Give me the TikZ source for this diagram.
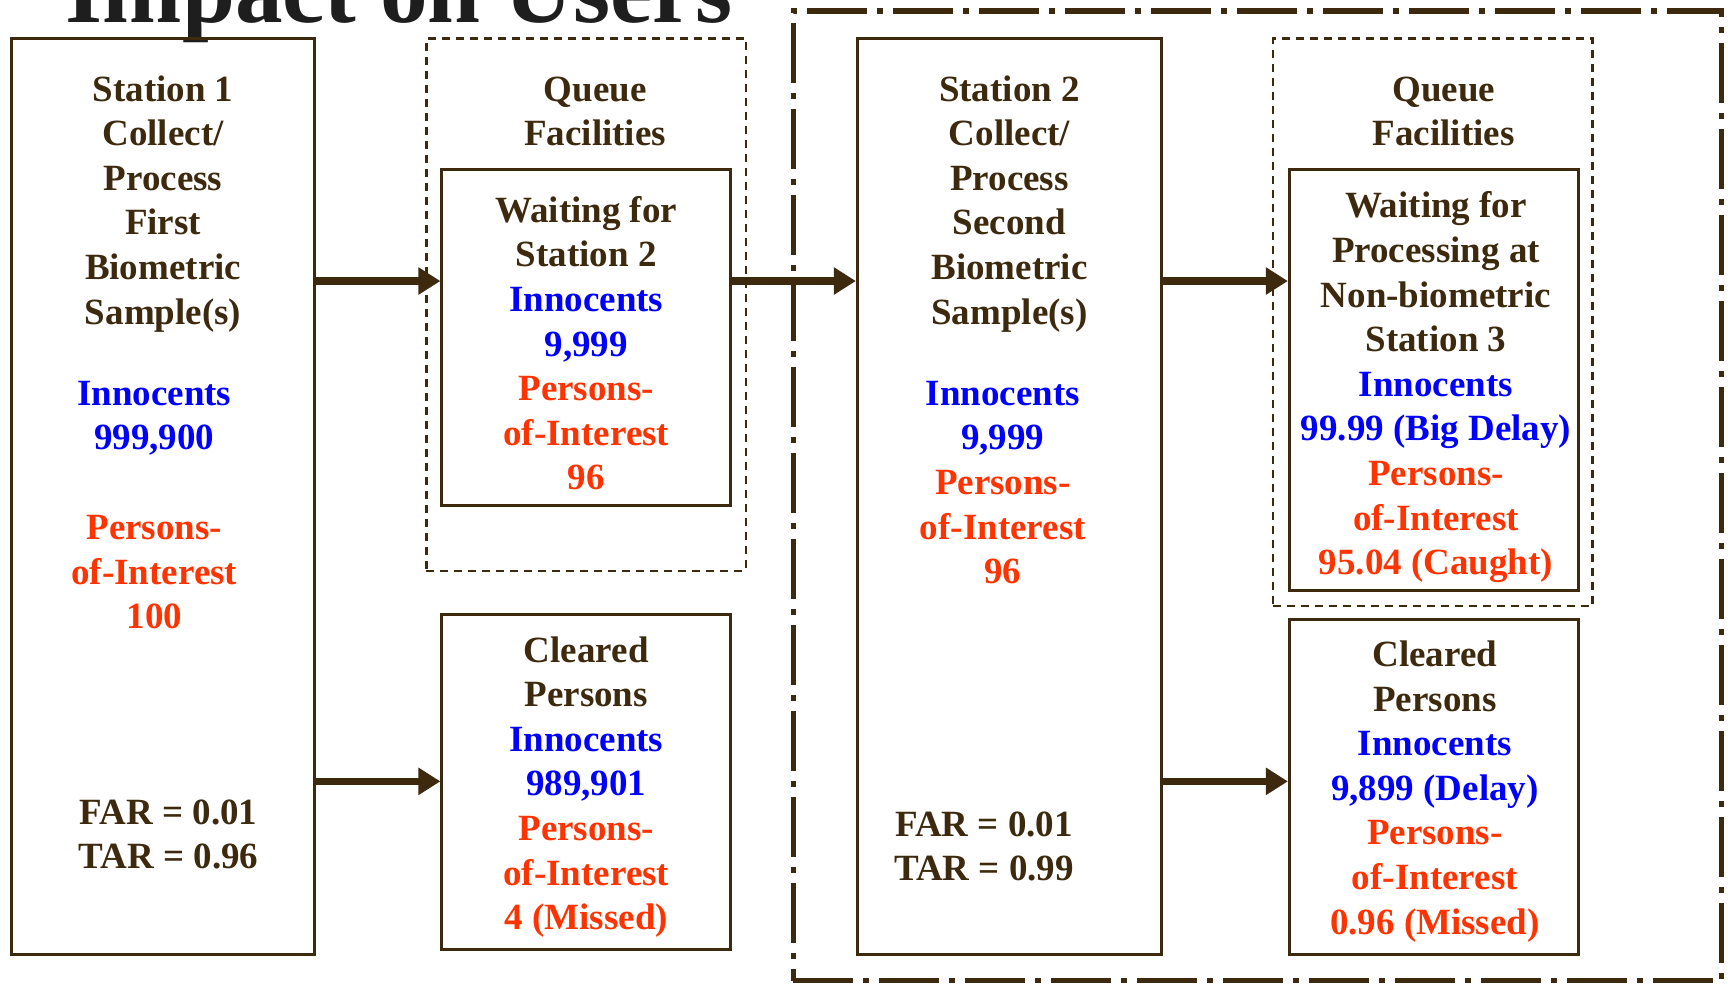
\documentclass[tikz,border=0pt]{standalone}
\usepackage{fontspec}
\setmainfont{Liberation Serif}
\usetikzlibrary{arrows.meta}
\definecolor{brn}{HTML}{3D2A0E}
\definecolor{blu}{HTML}{0000FF}
\definecolor{rd}{HTML}{FF3300}
\definecolor{ttl}{HTML}{1E1E1E}
\newcommand{\bl}[1]{\textcolor{blu}{#1}}
\newcommand{\rdt}[1]{\textcolor{rd}{#1}}
\begin{document}
\begin{tikzpicture}[x=0.55102pt,y=-0.55102pt,
 solidbox/.style={draw=brn,line width=1.5pt,inner sep=0pt,fill=none},
 queuebox/.style={draw=brn,line width=1.1pt,dash pattern=on 4pt off 3pt,inner sep=0pt},
 outerbox/.style={draw=brn,line width=2.6pt,dash pattern=on 30pt off 5pt on 3pt off 5pt,inner sep=0pt},
 txt/.style={font=\fontsize{18.5}{22.3}\selectfont\bfseries,text=brn,align=center,inner sep=0pt,anchor=north},
 flow/.style={draw=brn,line width=3.8pt,-{Triangle[length=11pt,width=13pt]}},
]
\useasboundingbox (0,0) rectangle (1568,894);

% title
\node[font=\fontsize{47.6}{50}\selectfont\bfseries,text=ttl,inner sep=0pt,anchor=base] (title) at (362,20) {Impact on Users};

% boxes
\node[solidbox,minimum width=275*0.55102pt,minimum height=831*0.55102pt] (s1) at (147.5,450.5) {};
\node[queuebox,minimum width=290*0.55102pt,minimum height=483*0.55102pt] (q1) at (532,276.5) {};
\node[solidbox,minimum width=262*0.55102pt,minimum height=305*0.55102pt] (w1) at (532,306.5) {};
\node[solidbox,minimum width=262*0.55102pt,minimum height=304*0.55102pt] (c1) at (532,710) {};
\node[outerbox,minimum width=842*0.55102pt,minimum height=880*0.55102pt] (ob) at (1141,450) {};
\node[solidbox,minimum width=276*0.55102pt,minimum height=831*0.55102pt] (s2) at (916,450.5) {};
\node[queuebox,minimum width=290*0.55102pt,minimum height=515*0.55102pt] (q2) at (1300,292.5) {};
\node[solidbox,minimum width=262*0.55102pt,minimum height=382*0.55102pt] (w2) at (1301,345) {};
\node[solidbox,minimum width=262*0.55102pt,minimum height=304*0.55102pt] (c2) at (1301,714) {};

% texts
\node[txt] (s1t) at (148,63) {\strut Station 1\\Collect/\\Process\\First\\Biometric\\Sample(s)};
\node[txt] (s1i) at (140,339) {\strut\bl{Innocents}\\\bl{999,900}};
\node[txt] (s1p) at (140,461) {\strut\rdt{Persons-}\\\rdt{of-Interest}\\\rdt{100}};
\node[txt] (s1f) at (153,719) {\strut FAR = 0.01\\TAR = 0.96};
\node[txt] (q1t) at (540,63) {\strut Queue\\Facilities};
\node[txt] (w1t) at (532,173) {\strut Waiting for\\Station 2\\\bl{Innocents}\\\bl{9,999}\\\rdt{Persons-}\\\rdt{of-Interest}\\\rdt{96}};
\node[txt] (c1t) at (532,572) {\strut Cleared\\Persons\\\bl{Innocents}\\\bl{989,901}\\\rdt{Persons-}\\\rdt{of-Interest}\\\rdt{4 (Missed)}};
\node[txt] (s2t) at (916,63) {\strut Station 2\\Collect/\\Process\\Second\\Biometric\\Sample(s)};
\node[txt] (s2ip) at (910,339) {\strut\bl{Innocents}\\\bl{9,999}\\\rdt{Persons-}\\\rdt{of-Interest}\\\rdt{96}};
\node[txt] (s2f) at (893,730) {\strut FAR = 0.01\\TAR = 0.99};
\node[txt] (q2t) at (1310,63) {\strut Queue\\Facilities};
\node[txt] (w2t) at (1303,169) {\strut Waiting for\\Processing at\\Non-biometric\\Station 3\\\bl{Innocents}\\\bl{99.99 (Big Delay)}\\\rdt{Persons-}\\\rdt{of-Interest}\\\rdt{95.04 (Caught)}};
\node[txt] (c2t) at (1302,576) {\strut Cleared\\Persons\\\bl{Innocents}\\\bl{9,899 (Delay)}\\\rdt{Persons-}\\\rdt{of-Interest}\\\rdt{0.96 (Missed)}};

% arrows
\draw[flow] (s1.east |- 0,255) -- (w1.west |- 0,255);
\draw[flow] (s1.east |- 0,709) -- (c1.west |- 0,709);
\draw[flow] (w1.east |- 0,255) -- (s2.west |- 0,255);
\draw[flow] (s2.east |- 0,255) -- (w2.west |- 0,255);
\draw[flow] (s2.east |- 0,709) -- (c2.west |- 0,709);
\end{tikzpicture}
\end{document}
